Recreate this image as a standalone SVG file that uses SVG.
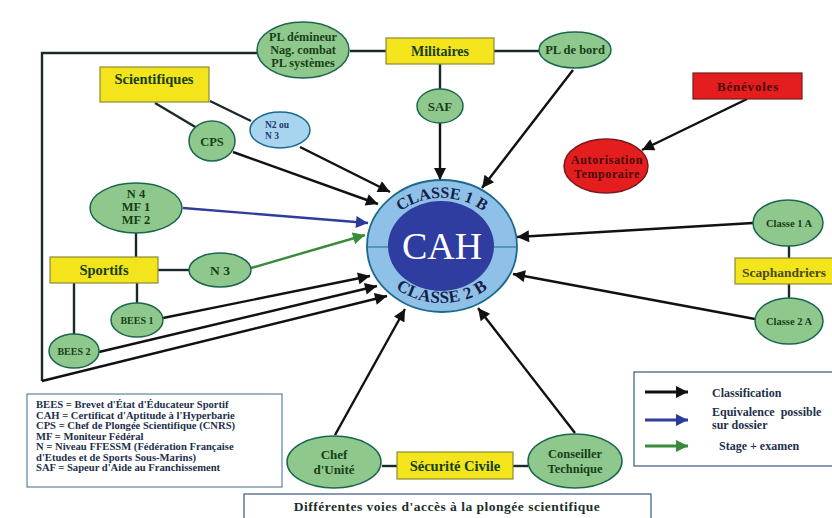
<svg xmlns="http://www.w3.org/2000/svg" width="832" height="518" viewBox="0 0 832 518">
<defs>
<marker id="ab" viewBox="0 0 10 10" refX="10" refY="5" markerWidth="14" markerHeight="12" markerUnits="userSpaceOnUse" orient="auto"><path d="M0,0 L10,5 L0,10 z" fill="#111"/></marker>
<marker id="au" viewBox="0 0 10 10" refX="10" refY="5" markerWidth="14" markerHeight="12" markerUnits="userSpaceOnUse" orient="auto"><path d="M0,0 L10,5 L0,10 z" fill="#2a3a9a"/></marker>
<marker id="ag" viewBox="0 0 10 10" refX="10" refY="5" markerWidth="14" markerHeight="12" markerUnits="userSpaceOnUse" orient="auto"><path d="M0,0 L10,5 L0,10 z" fill="#3a8a3a"/></marker>
<path id="arcTop" d="M380,250 A62,52 0 0 1 504,250"/>
<path id="arcBot" d="M371,242 A71,61 0 0 0 513,242"/>
</defs>
<style>
text{font-family:"Liberation Serif","Times New Roman",serif;font-weight:bold}
.el{fill:#8fc88c;stroke:#1b6650;stroke-width:1.5}
.rc{fill:#f4e41c;stroke:#8a8a3a;stroke-width:1.2}
.t{fill:#173f17;text-anchor:middle}
.ln{stroke:#1a2a28;stroke-width:2.4;fill:none}
.ar{stroke:#111;stroke-width:2.4;fill:none;marker-end:url(#ab)}
.lg{fill:#1d2f4a;font-size:10.6px}
</style>
<rect width="832" height="518" fill="#fff"/>

<g id="connectors">
<line class="ln" x1="350" y1="51" x2="386" y2="51"/>
<line class="ln" x1="494" y1="51" x2="540" y2="51"/>
<line class="ln" x1="440" y1="64" x2="440" y2="90"/>
<polyline class="ln" points="257,53 42,53 42,381"/>
<line class="ln" x1="155" y1="103" x2="197" y2="128"/>
<line class="ln" x1="210" y1="101" x2="251" y2="121"/>
<line class="ln" x1="136" y1="233" x2="136" y2="257"/>
<line class="ln" x1="158" y1="270" x2="189" y2="270"/>
<line class="ln" x1="137" y1="283" x2="137" y2="303"/>
<line class="ln" x1="74" y1="283" x2="74" y2="335" stroke-width="1.6"/>
<line class="ln" x1="789" y1="246" x2="789" y2="258"/>
<line class="ln" x1="789" y1="284" x2="789" y2="298"/>
<line class="ln" x1="382" y1="466" x2="397" y2="466" stroke-width="1.6"/>
<line class="ln" x1="513" y1="466" x2="528" y2="466" stroke-width="1.6"/>
<line class="ar" x1="440" y1="123" x2="440" y2="180"/>
<line class="ar" x1="573" y1="70" x2="482" y2="188"/>
<line class="ar" x1="300" y1="147" x2="390" y2="192"/>
<line class="ar" x1="233" y1="152" x2="378" y2="204"/>
<line x1="183" y1="208" x2="368" y2="223" stroke="#2f3d9c" stroke-width="2.4" marker-end="url(#au)"/>
<line x1="251" y1="268" x2="365" y2="235" stroke="#3a8a3a" stroke-width="2.4" marker-end="url(#ag)"/>
<line class="ar" x1="163" y1="318" x2="370" y2="276"/>
<line class="ar" x1="99" y1="352" x2="377" y2="286"/>
<line class="ar" x1="42" y1="381" x2="387" y2="296"/>
<line class="ar" x1="335" y1="435" x2="405" y2="309"/>
<line class="ar" x1="575" y1="433" x2="478" y2="308"/>
<line class="ar" x1="753" y1="223" x2="517" y2="237"/>
<line class="ar" x1="755" y1="319" x2="513" y2="274"/>
<line class="ar" x1="747" y1="99" x2="642" y2="150"/>
</g>

<g id="cah">
<ellipse cx="442" cy="246" rx="75" ry="66" fill="#8fc0e8" stroke="#1a6a8a" stroke-width="1.8"/>
<line x1="367" y1="247" x2="517" y2="247" stroke="#1a6a8a" stroke-width="1.2"/>
<ellipse cx="441" cy="246" rx="53" ry="45" fill="#2f3ca0"/>
<text x="442" y="259" font-size="38" fill="#fff" text-anchor="middle" style="font-weight:normal">CAH</text>
<text font-size="16" fill="#15204a"><textPath href="#arcTop" startOffset="50%" text-anchor="middle">CLASSE 1 B</textPath></text>
<text font-size="17" letter-spacing="0.4" fill="#15204a"><textPath href="#arcBot" startOffset="50%" text-anchor="middle">CLASSE 2 B</textPath></text>
</g>

<g id="pl-demineur"><ellipse class="el" cx="303" cy="50" rx="46" ry="28"/>
<text class="t" font-size="12.2"><tspan x="303" y="41">PL démineur</tspan><tspan x="303" y="54">Nag. combat</tspan><tspan x="303" y="67">PL systèmes</tspan></text></g>
<g id="militaires"><rect class="rc" x="386" y="38" width="108" height="26"/><text class="t" x="440" y="56" font-size="14" fill="#3f3f14">Militaires</text></g>
<g id="pl-bord"><ellipse class="el" cx="575" cy="50" rx="36" ry="18"/><text class="t" x="575" y="54" font-size="12.5">PL de bord</text></g>
<g id="saf"><ellipse class="el" cx="440" cy="106" rx="23" ry="17"/><text class="t" x="440" y="111" font-size="13">SAF</text></g>

<g id="scientifiques"><rect class="rc" x="100" y="67" width="109" height="35"/><text class="t" x="154" y="84" font-size="14.5" fill="#3f3f14">Scientifiques</text></g>
<g id="n2n3"><ellipse cx="280" cy="130" rx="30" ry="18" fill="#a8d4f0" stroke="#1a6a8a" stroke-width="1.5"/>
<text font-size="9.5" fill="#1d3a6a"><tspan x="265" y="128">N2 ou</tspan><tspan x="265" y="139">N 3</tspan></text></g>
<g id="cps"><ellipse class="el" cx="212" cy="141" rx="23" ry="20"/><text class="t" x="212" y="146" font-size="12.5">CPS</text></g>

<g id="n4mf"><ellipse class="el" cx="136" cy="208" rx="46" ry="25"/>
<text class="t" font-size="12.5"><tspan x="136" y="198">N 4</tspan><tspan x="136" y="211">MF 1</tspan><tspan x="136" y="224">MF 2</tspan></text></g>
<g id="sportifs"><rect class="rc" x="50" y="257" width="108" height="26"/><text class="t" x="104" y="275" font-size="14.5" fill="#4a4a1a">Sportifs</text></g>
<g id="n3"><ellipse class="el" cx="220" cy="270" rx="31" ry="17"/><text class="t" x="220" y="275" font-size="13.5">N 3</text></g>
<g id="bees1"><ellipse class="el" cx="137" cy="320" rx="26" ry="17"/><text class="t" x="137" y="324" font-size="10">BEES 1</text></g>
<g id="bees2"><ellipse class="el" cx="74" cy="351" rx="25" ry="17"/><text class="t" x="74" y="355" font-size="10">BEES 2</text></g>

<g id="benevoles"><rect x="693" y="73" width="109" height="26" fill="#e41e1e" stroke="#7a1a1a" stroke-width="1.2"/><text x="748" y="91" font-size="13" letter-spacing="0.8" fill="#4a0a0a" text-anchor="middle">Bénévoles</text></g>
<g id="autorisation"><ellipse cx="606" cy="166" rx="42" ry="27" fill="#e41e1e" stroke="#7a1a1a" stroke-width="1.5"/>
<text font-size="12" letter-spacing="0.6" fill="#4a0a0a" text-anchor="middle"><tspan x="607" y="164">Autorisation</tspan><tspan x="607" y="178">Temporaire</tspan></text></g>

<g id="classe1a"><ellipse class="el" cx="788" cy="223" rx="35" ry="23"/><text class="t" x="789" y="227" font-size="10.5">Classe 1 A</text></g>
<g id="scaphandriers"><rect class="rc" x="735" y="258" width="110" height="26"/><text x="742" y="277" font-size="13.5" fill="#4a4a1a">Scaphandriers</text></g>
<g id="classe2a"><ellipse class="el" cx="789" cy="321" rx="34" ry="23"/><text class="t" x="789" y="325" font-size="10.5">Classe 2 A</text></g>

<g id="chef"><ellipse class="el" cx="334" cy="462" rx="47" ry="26"/>
<text class="t" font-size="13"><tspan x="334" y="459">Chef</tspan><tspan x="334" y="474">d'Unité</tspan></text></g>
<g id="securite"><rect class="rc" x="397" y="452" width="116" height="27"/><text class="t" x="455" y="471" font-size="14.5" fill="#4a4a1a">Sécurité Civile</text></g>
<g id="conseiller"><ellipse class="el" cx="575" cy="461" rx="47" ry="27"/>
<text class="t" font-size="12.5"><tspan x="575" y="458">Conseiller</tspan><tspan x="575" y="473">Technique</tspan></text></g>

<g id="legend-abbr">
<rect x="27" y="394" width="255" height="93" fill="#fff" stroke="#3a6a8a" stroke-width="1"/>
<text class="lg"><tspan x="36" y="408">BEES = Brevet d'État d'Éducateur Sportif</tspan><tspan x="36" y="418.5">CAH = Certificat d'Aptitude à l'Hyperbarie</tspan><tspan x="36" y="429">CPS = Chef de Plongée Scientifique (CNRS)</tspan><tspan x="36" y="439.5">MF = Moniteur Fédéral</tspan><tspan x="36" y="450">N = Niveau FFESSM (Fédération Française</tspan><tspan x="36" y="460.5">d'Etudes et de  Sports Sous-Marins)</tspan><tspan x="36" y="471">SAF = Sapeur d'Aide au Franchissement</tspan></text>
</g>

<g id="legend-arrows">
<rect x="634" y="372" width="210" height="94" fill="#fff" stroke="#3a5a7a" stroke-width="1.2"/>
<line x1="645" y1="392" x2="688" y2="392" stroke="#111" stroke-width="3" marker-end="url(#ab)"/>
<line x1="645" y1="420" x2="688" y2="420" stroke="#2f3d9c" stroke-width="3" marker-end="url(#au)"/>
<line x1="645" y1="446" x2="688" y2="446" stroke="#3a8a3a" stroke-width="3" marker-end="url(#ag)"/>
<text x="712" y="397" font-size="12" fill="#1d2f4a">Classification</text>
<text font-size="12" fill="#1d2f4a"><tspan x="712" y="416" word-spacing="3">Equivalence possible</tspan><tspan x="712" y="429">sur dossier</tspan></text>
<text x="719" y="450" font-size="12" fill="#1d2f4a">Stage + examen</text>
</g>

<g id="title">
<rect x="244" y="494" width="407" height="30" fill="#fff" stroke="#3a5a7a" stroke-width="1.2"/>
<text x="447" y="511" font-size="13.5" letter-spacing="0.5" fill="#1d2f2a" text-anchor="middle">Différentes voies d'accès à la plongée scientifique</text>
</g>
</svg>
